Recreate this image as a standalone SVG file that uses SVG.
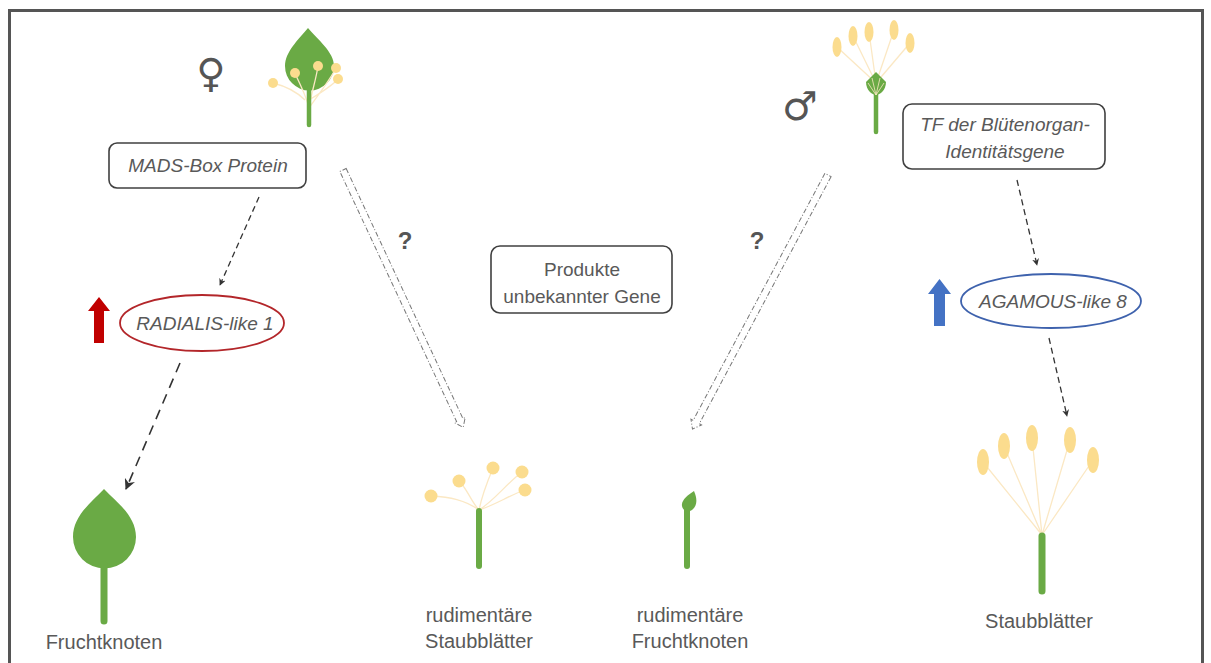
<svg xmlns="http://www.w3.org/2000/svg" width="1211" height="663" viewBox="0 0 1211 663">
  <defs>
    <style>
      .lbl { font-family: "Liberation Sans", Arial, sans-serif; font-size: 20px; fill: #595959; text-anchor: middle; }
      .box { fill: #fff; stroke: #404040; stroke-width: 1.6; }
      .btxt { font-family: "Liberation Sans", Arial, sans-serif; font-size: 19px; fill: #595959; text-anchor: middle; }
      .it { font-style: italic; }
      .sym { font-family: "DejaVu Sans", sans-serif; fill: #555; text-anchor: middle; }
      .q { font-family: "Liberation Sans", Arial, sans-serif; font-size: 24px; font-weight: bold; fill: #555; text-anchor: middle; }
      .green { fill: #6aaa45; }
      .stem { stroke: #6aaa45; stroke-linecap: round; fill: none; }
      .pollen { fill: #fbdc8e; }
      .fil { stroke: #fbe8c4; stroke-width: 1.3; fill: none; }
      .dash { stroke: #333; stroke-width: 1.3; fill: none; stroke-dasharray: 6 4; }
      .dashL { stroke: #333; stroke-width: 1.6; fill: none; stroke-dasharray: 10 7; }
      .hollow { fill: none; stroke: #777; stroke-width: 1; stroke-dasharray: 5 2 1 2; }
    </style>
    <marker id="ah" viewBox="0 0 10 10" refX="9" refY="5" markerWidth="7" markerHeight="7" markerUnits="userSpaceOnUse" orient="auto">
      <path d="M0,0 L10,5 L0,10 L3,5 Z" fill="#333"/>
    </marker>
    <marker id="ahL" viewBox="0 0 10 10" refX="9" refY="5" markerWidth="11" markerHeight="11" markerUnits="userSpaceOnUse" orient="auto">
      <path d="M0,0 L10,5 L0,10 L3,5 Z" fill="#333"/>
    </marker>
  </defs>

  <rect x="0" y="0" width="1211" height="663" fill="#fff"/>
  <!-- outer frame -->
  <rect x="9.5" y="10.5" width="1193" height="700" fill="none" stroke="#555" stroke-width="3"/>

  <!-- connectors -->
  <g id="connectors">
    <line class="dash" x1="259" y1="197" x2="220" y2="285" marker-end="url(#ah)"/>
    <line class="dashL" x1="180" y1="363" x2="126" y2="489" marker-end="url(#ahL)"/>
    <line class="dash" x1="1017" y1="180" x2="1037" y2="265" marker-end="url(#ah)"/>
    <line class="dash" x1="1049" y1="338" x2="1067" y2="416" marker-end="url(#ah)"/>
    <!-- hollow dash-dot arrows -->
    <g transform="translate(343,170) rotate(64.97)">
      <path class="hollow" d="M0,-3.5 L276,-3.5 L276,-6 L284,0 L276,6 L276,3.5 L0,3.5 Z"/>
    </g>
    <g transform="translate(828,175) rotate(118.07)">
      <path class="hollow" d="M0,-3.5 L280,-3.5 L280,-6 L288,0 L280,6 L280,3.5 L0,3.5 Z"/>
    </g>
    <text class="q" x="405" y="249">?</text>
    <text class="q" x="757" y="249">?</text>
  </g>

  <!-- female flower -->
  <g id="female">
    <text class="sym" x="211" y="87" font-size="40">♀</text>
    <path class="fil" d="M305,100 C295,90 285,86 273,83"/>
    <path class="green" d="M308,28 C318,40 334,52 334,66 A24.5,24.5 0 0 1 285,66 C285,52 298,40 308,28 Z"/>
    <path d="M309,108 C306,95 300,85 295,73 M309,108 C312,90 316,80 318,66 M309,108 C318,95 330,80 336,68 M309,100 C322,92 332,86 338,79" stroke="#fbe8c4" stroke-width="1.3" fill="none"/>
    <line class="stem" x1="309" y1="88" x2="309" y2="125" stroke-width="4.5"/>
    <circle class="pollen" cx="295" cy="73" r="5"/>
    <circle class="pollen" cx="318" cy="66" r="5"/>
    <circle class="pollen" cx="336" cy="68" r="5"/>
    <circle class="pollen" cx="338" cy="79" r="5"/>
    <circle class="pollen" cx="273" cy="83" r="5"/>
  </g>

  <!-- male flower -->
  <g id="male">
    <text class="sym" x="800" y="120" font-size="40">♂</text>
    <path class="fil" d="M876,83 L837,47 M876,83 L853,36 M876,83 L869,32 M876,83 L894,30 M876,83 L910,43"/>
    <ellipse class="pollen" cx="837" cy="47" rx="4.5" ry="10"/>
    <ellipse class="pollen" cx="853" cy="36" rx="4.5" ry="10"/>
    <ellipse class="pollen" cx="869" cy="32" rx="4.5" ry="10"/>
    <ellipse class="pollen" cx="894" cy="30" rx="4.5" ry="10"/>
    <ellipse class="pollen" cx="910" cy="43" rx="4.5" ry="10"/>
    <line class="stem" x1="876" y1="92" x2="876" y2="132" stroke-width="4.5"/>
    <path class="green" d="M876,72 L886,82 C886,90 880,95 876,95 C872,95 866,90 866,82 Z"/>
    <path d="M876,95 L872,78 M876,95 L880,78 M876,95 L868,83 M876,95 L884,83" stroke="#fbe8c4" stroke-width="0.8" fill="none"/>
  </g>

  <!-- regulator boxes -->
  <g id="mads">
    <rect class="box" x="109" y="143" width="197" height="45" rx="8"/>
    <text class="btxt it" x="208" y="172">MADS-Box Protein</text>
  </g>
  <g id="tf">
    <rect class="box" x="903" y="104" width="202" height="65" rx="9"/>
    <text class="btxt it" x="1005" y="131">TF der Blütenorgan-</text>
    <text class="btxt it" x="1005" y="158">Identitätsgene</text>
  </g>
  <g id="produkte">
    <rect class="box" x="491" y="246" width="181" height="67" rx="9"/>
    <text class="btxt" x="582" y="276">Produkte</text>
    <text class="btxt" x="582" y="303">unbekannter Gene</text>
  </g>

  <!-- upregulated genes -->
  <g id="radialis">
    <path d="M94,343 L104,343 L104,311 L110,311 L99,297 L88,311 L94,311 Z" fill="#c00000"/>
    <ellipse cx="202" cy="323" rx="82" ry="28" fill="#fff" stroke="#b3262a" stroke-width="1.8"/>
    <text class="btxt it" x="205" y="330" font-size="19">RADIALIS-like 1</text>
  </g>
  <g id="agamous">
    <path d="M934,326 L945,326 L945,294 L951,294 L939.5,279 L928,294 L934,294 Z" fill="#4472c4"/>
    <ellipse cx="1051" cy="301" rx="90" ry="27" fill="#fff" stroke="#3e62ad" stroke-width="1.8"/>
    <text class="btxt it" x="1053" y="308" font-size="19">AGAMOUS-like 8</text>
  </g>

  <!-- resulting organs -->
  <g id="fruchtknoten">
    <path class="green" d="M104,489 C115,501 136,515 136,537 A31.5,31.5 0 0 1 73,537 C73,515 93,501 104,489 Z"/>
    <line class="stem" x1="104" y1="565" x2="104" y2="621" stroke-width="7"/>
    <text class="lbl" x="104" y="649">Fruchtknoten</text>
  </g>
  <g id="rud-staubblaetter">
    <path class="fil" d="M479,510 C465,500 450,497 431,496 M479,510 C470,500 468,490 459,481 M479,510 C482,495 488,480 493,468 M479,510 C495,500 505,485 522,472 M479,510 C495,505 510,495 525,490"/>
    <line class="stem" x1="479" y1="511" x2="479" y2="566" stroke-width="6"/>
    <circle class="pollen" cx="431" cy="496" r="6.5"/>
    <circle class="pollen" cx="459" cy="481" r="6.5"/>
    <circle class="pollen" cx="493" cy="468" r="6.5"/>
    <circle class="pollen" cx="522" cy="472" r="6.5"/>
    <circle class="pollen" cx="525" cy="490" r="6.5"/>
    <text class="lbl" x="479" y="622">rudimentäre</text>
    <text class="lbl" x="479" y="648">Staubblätter</text>
  </g>
  <g id="rud-fruchtknoten">
    <line class="stem" x1="687" y1="510" x2="687" y2="566" stroke-width="6"/>
    <path class="green" d="M694,491 C697,498 698,505 692,510 C688,513 683,511 682,506 C681,500 688,495 694,491 Z"/>
    <text class="lbl" x="690" y="622">rudimentäre</text>
    <text class="lbl" x="690" y="648">Fruchtknoten</text>
  </g>
  <g id="staubblaetter">
    <path class="fil" d="M1042,535 L983,462 M1042,535 L1004,446 M1042,535 L1032,438 M1042,535 L1070,440 M1042,535 L1093,460"/>
    <ellipse class="pollen" cx="983" cy="462" rx="6" ry="13"/>
    <ellipse class="pollen" cx="1004" cy="446" rx="6" ry="13"/>
    <ellipse class="pollen" cx="1032" cy="438" rx="6" ry="13"/>
    <ellipse class="pollen" cx="1070" cy="440" rx="6" ry="13"/>
    <ellipse class="pollen" cx="1093" cy="460" rx="6" ry="13"/>
    <line class="stem" x1="1042" y1="536" x2="1042" y2="591" stroke-width="7"/>
    <text class="lbl" x="1039" y="628">Staubblätter</text>
  </g>
</svg>
